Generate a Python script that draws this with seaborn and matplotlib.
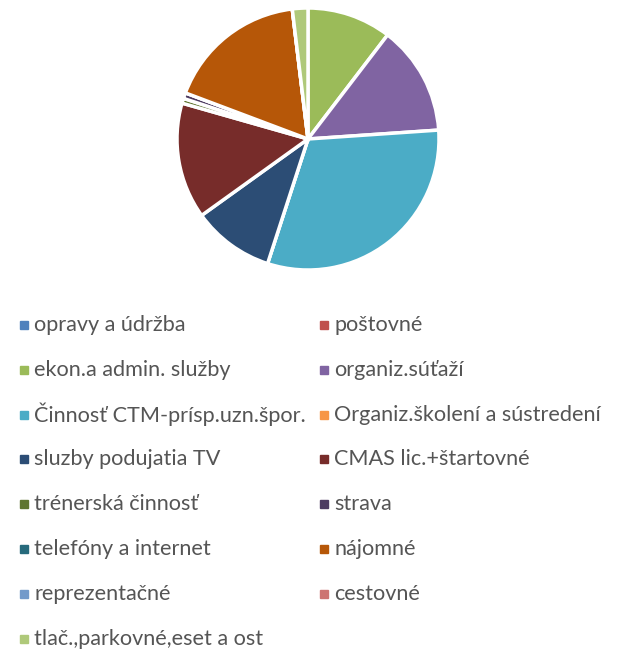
import matplotlib
matplotlib.use("Agg")
import matplotlib.pyplot as plt
from matplotlib.lines import Line2D
import seaborn as sns

sns.set_theme(style="white")
plt.rcParams["font.family"] = ["Lato", "DejaVu Sans"]

# Expense categories (share of total, %)
categories = [
    "opravy a údržba", "poštovné", "ekon.a admin. služby", "organiz.súťaží",
    "Činnosť CTM-prísp.uzn.špor.", "Organiz.školení a sústredení",
    "sluzby podujatia TV", "CMAS lic.+štartovné", "trénerská činnosť",
    "strava", "telefóny a internet", "nájomné", "reprezentačné",
    "cestovné", "tlač.,parkovné,eset a ost",
]
values = [0.0, 0.0, 10.3, 13.4, 30.8, 0.0, 10.0, 14.2, 0.6, 0.7, 0.0,
          17.2, 0.0, 0.0, 1.9]
colors = [
    "#4F81BD", "#C0504D", "#9BBB59", "#8064A2", "#4BACC6", "#F79646",
    "#2C4D75", "#772C2A", "#5F7530", "#4D3B62", "#276A7C", "#B65708",
    "#729ACA", "#CD7371", "#AFC97A",
]

W, H = 627, 651
fig = plt.figure(figsize=(W / 100, H / 100), dpi=100)

cx, cy, r = 308, 139, 131
ax = fig.add_axes([(cx - r) / W, (H - cy - r) / H, 2 * r / W, 2 * r / H])
ax.pie(values, colors=colors, startangle=90, counterclock=False,
       wedgeprops=dict(edgecolor="white", linewidth=2.5))
ax.set_xlim(-1.0, 1.0)
ax.set_ylim(-1.0, 1.0)
ax.set_aspect("equal")
ax.axis("off")

# Legend: row-major order in two columns
left = categories[0::2]
right = categories[1::2]
left_c = colors[0::2]
right_c = colors[1::2]

for col, (labs, cols) in enumerate([(left, left_c), (right, right_c)]):
    x_marker = 24 if col == 0 else 324
    for i, (lab, c) in enumerate(zip(labs, cols)):
        y = 325 + i * 44.8
        fig.lines.append(Line2D([x_marker / W], [1 - y / H], marker="s",
                                markersize=6, color=c, linestyle="none",
                                transform=fig.transFigure))
        fig.text((x_marker + 10) / W, 1 - y / H, lab, fontsize=15.6,
                 color="#555555", va="center", ha="left")

fig.savefig("out.png", dpi=100, facecolor="white")
